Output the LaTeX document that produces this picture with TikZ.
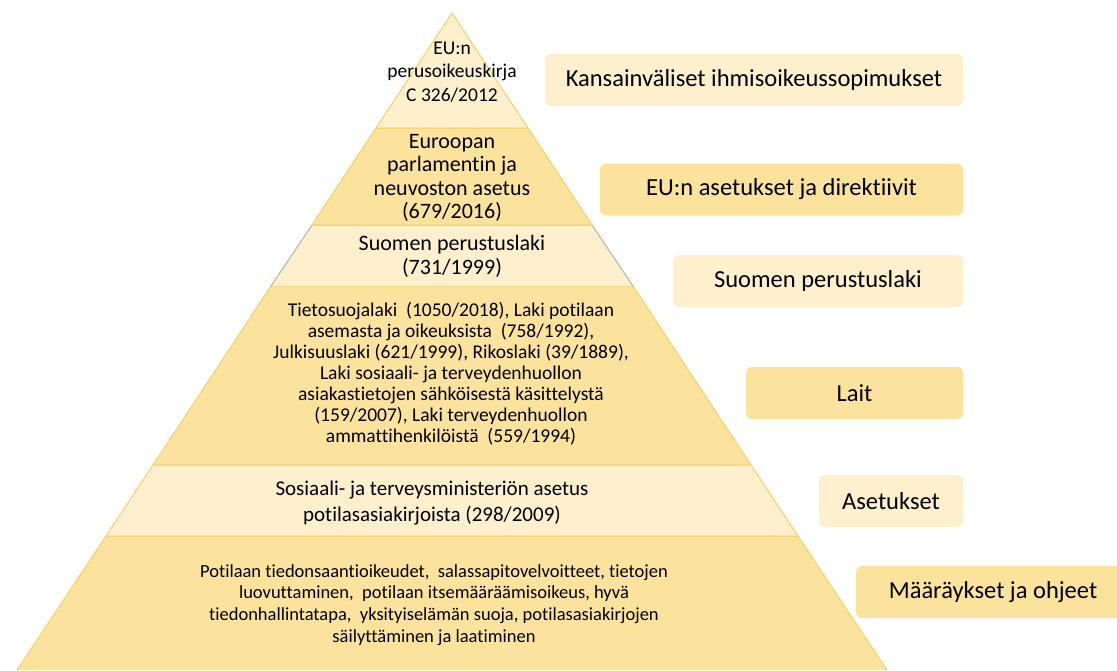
\documentclass[tikz,border=0pt]{standalone}
\usepackage{fontspec}
\setmainfont{Carlito}[Ligatures=NoCommon]
\definecolor{lightgold}{RGB}{254,240,204}
\definecolor{darkgold}{RGB}{252,227,157}
\definecolor{goldline}{RGB}{249,200,80}
\tikzset{
  lightlayer/.style={fill=lightgold,draw=goldline,line width=0.8pt,line join=round},
  darklayer/.style={fill=darkgold,draw=goldline,line width=0.8pt,line join=round},
  layertext/.style={align=center,inner sep=0pt},
  sidebox/.style={rounded corners=6pt,minimum height=52pt,inner sep=0pt,
    font=\fontsize{24.5}{28}\selectfont},
}
\begin{document}
\begin{tikzpicture}[x=1pt,y=-1pt]
	\useasboundingbox (0,0) rectangle (1117,670);
	
	% pyramid layers
	\draw[darklayer](17,670)--(106,536)--(798,536)--(887,670);
	\draw[lightlayer](106,536)--(153,465)--(751,465)--(798,536)--cycle;
	\draw[darklayer](153,465)--(271,286)--(633,286)--(751,465)--cycle;
	\draw[lightlayer,draw=gray!70](271,286)--(312,225)--(592,225)--(633,286);
	\draw[darklayer](312,225)--(376,128)--(528,128)--(592,225)--cycle;
	\draw[lightlayer](376,128)--(452,13)--(528,128)--cycle;
	
	\node[layertext,font=\fontsize{19.5}{23.5}\selectfont] (charter) at (452,72)
		{EU:n\\perusoikeuskirja\\C 326/2012};
	\node[layertext,font=\fontsize{22}{23.3}\selectfont] (gdpr) at (452,178)
		{Euroopan\\parlamentin ja\\neuvoston asetus\\(679/2016)};
	\node[layertext,font=\fontsize{22}{24}\selectfont] (constitution) at (452,256)
		{Suomen perustuslaki\\(731/1999)};
	\node[layertext,font=\fontsize{19.5}{21}\selectfont] (acts) at (451,374)
		{Tietosuojalaki\ \ (1050/2018), Laki potilaan\\
		asemasta ja oikeuksista\ \ (758/1992),\\
		Julkisuuslaki (621/1999), Rikoslaki (39/1889),\\
		Laki sosiaali- ja terveydenhuollon\\
		asiakastietojen sähköisestä käsittelystä\\
		(159/2007), Laki terveydenhuollon\\
		ammattihenkilöistä\ \ (559/1994)};
	\node[layertext,font=\fontsize{21}{26}\selectfont] (decree) at (432,503)
		{Sosiaali- ja terveysministeriön asetus\\potilasasiakirjoista (298/2009)};
	\node[layertext,font=\fontsize{18.5}{21.7}\selectfont] (rules) at (434,605)
		{Potilaan tiedonsaantioikeudet,\ \ salassapitovelvoitteet, tietojen\\
		luovuttaminen,\ \ potilaan itsemääräämisoikeus, hyvä\\
		tiedonhallintatapa,\ \ yksityiselämän suoja, potilasasiakirjojen\\
		säilyttäminen ja laatiminen};
	
	% labels on the right
	\node[sidebox,fill=lightgold,minimum width=418pt] (intl) at (754,80)
		{Kansainväliset ihmisoikeussopimukset};
	\node[sidebox,fill=darkgold,minimum width=363pt] (eulaw) at (781.5,189.5)
		{EU:n asetukset ja direktiivit};
	\node[sidebox,fill=lightgold,minimum width=290pt] (fincon) at (818,281)
		{Suomen perustuslaki};
	\node[sidebox,fill=darkgold,minimum width=217pt] (laws) at (854.5,393)
		{Lait};
	\node[sidebox,fill=lightgold,minimum width=144pt] (decrees) at (891,501)
		{Asetukset};
	\node[sidebox,fill=darkgold,minimum width=274pt] (orders) at (993,592)
		{Määräykset ja ohjeet};
	
\end{tikzpicture}
\end{document}
